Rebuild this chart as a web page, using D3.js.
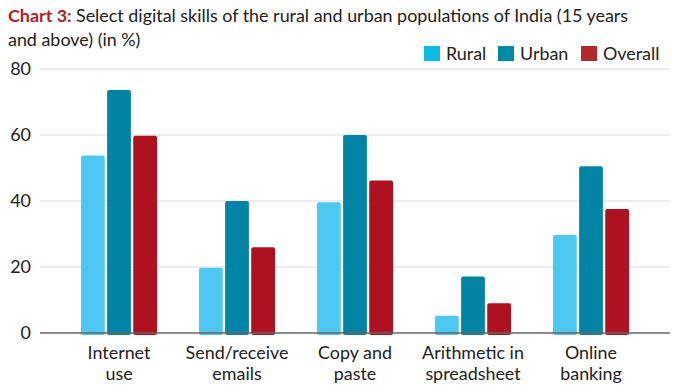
<!DOCTYPE html>
<html>
<head>
<meta charset="utf-8">
<script src="https://cdn.jsdelivr.net/npm/d3@7"></script>
<style>
  body { margin: 0; background: #fff; }
  svg { display: block; font-family: Lato, "Noto Sans", sans-serif; }
</style>
</head>
<body>
<div id="chart"></div>
<script>
// data
const categories = [['Internet', 'use'], ['Send/receive', 'emails'], ['Copy and', 'paste'], ['Arithmetic in', 'spreadsheet'], ['Online', 'banking']];
const series = ['Rural', 'Urban', 'Overall'];
const rural = [53.8, 19.8, 39.6, 5.2, 29.7];
const urban = [73.6, 40, 60, 17.1, 50.5];
const overall = [59.8, 26, 46.2, 9, 37.6];
const yTicks = [0, 20, 40, 60, 80];

const barColors = {Rural: '#4fc7f3', Urban: '#0083a5', Overall: '#ae1120'};
const legendColors = {Rural: '#0bbbe6', Urban: '#0389a8', Overall: '#b32a2c'};

const width = 681, height = 385;
const fs = 17.9;
const svg = d3.select('#chart').append('svg')
  .attr('width', width)
  .attr('height', height);

// title
const title = svg.append('text')
  .attr('x', 8)
  .attr('font-size', fs)
  .attr('fill', '#222');
title.append('tspan')
  .attr('x', 8).attr('y', 22)
  .attr('font-weight', 'bold').attr('fill', '#b3202a')
  .text('Chart 3: ');
title.append('tspan')
  .text('Select digital skills of the rural and urban populations of India (15 years');
title.append('tspan')
  .attr('x', 8).attr('y', 46)
  .text('and above) (in %)');

// scales
const x0 = d3.scaleBand()
  .domain(d3.range(categories.length))
  .range([60, 650]);
const x1 = d3.scaleBand()
  .domain(series)
  .range([0, 76])
  .paddingInner(0.09);
const y = d3.scaleLinear()
  .domain([0, 80])
  .range([333, 69]);

// gridlines
svg.append('g')
  .selectAll('line')
  .data(yTicks.filter(d => d > 0))
  .join('line')
  .attr('x1', 40).attr('x2', 670)
  .attr('y1', d => y(d)).attr('y2', d => y(d))
  .attr('stroke', '#dcdcdc')
  .attr('stroke-width', 1.2);

// y axis labels
const yAxis = svg.append('g')
  .attr('transform', 'translate(36,0)')
  .call(d3.axisLeft(y).tickValues(yTicks).tickSize(0).tickPadding(5));
yAxis.select('.domain').remove();
yAxis.selectAll('text')
  .attr('font-family', 'Lato, sans-serif')
  .attr('font-size', fs)
  .attr('fill', '#222');

// bars
const table = categories.map((c, i) => ({i, values: [
  {key: 'Rural', v: rural[i]},
  {key: 'Urban', v: urban[i]},
  {key: 'Overall', v: overall[i]}
]}));

svg.append('g')
  .selectAll('g')
  .data(table)
  .join('g')
  .attr('transform', d => `translate(${x0(d.i) + x0.bandwidth() / 2 - 38},0)`)
  .selectAll('rect')
  .data(d => d.values)
  .join('rect')
  .attr('x', d => x1(d.key))
  .attr('width', x1.bandwidth())
  .attr('y', d => y(d.v))
  .attr('height', d => y(0) - y(d.v) + 2)
  .attr('rx', 2)
  .attr('fill', d => barColors[d.key]);

// baseline
svg.append('line')
  .attr('x1', 40).attr('x2', 670)
  .attr('y1', y(0)).attr('y2', y(0))
  .attr('stroke', '#666')
  .attr('stroke-width', 1.5);

// category labels
const xl = svg.append('g')
  .selectAll('text')
  .data(categories)
  .join('text')
  .attr('text-anchor', 'middle')
  .attr('font-size', fs)
  .attr('fill', '#222')
  .attr('x', (d, i) => x0(i) + x0.bandwidth() / 2);
xl.append('tspan').attr('y', 359).text(d => d[0]);
xl.append('tspan').attr('y', 380)
  .attr('x', (d, i) => x0(i) + x0.bandwidth() / 2)
  .text(d => d[1]);

// legend
const legendX = [424, 498, 581];
const legend = svg.append('g')
  .selectAll('g')
  .data(series)
  .join('g')
  .attr('transform', (d, i) => `translate(${legendX[i]},46)`);
legend.append('rect')
  .attr('width', 16).attr('height', 15)
  .attr('fill', d => legendColors[d]);
legend.append('text')
  .attr('x', 22).attr('y', 14)
  .attr('font-size', fs)
  .attr('fill', '#222')
  .text(d => d);
</script>
</body>
</html>
